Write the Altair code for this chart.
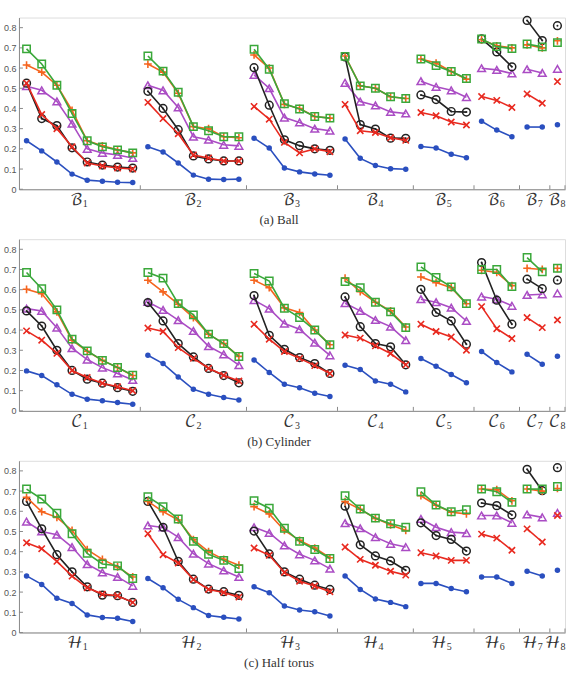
import altair as alt
import pandas as pd

group_sizes = [8, 7, 6, 5, 4, 3, 2, 1]
y_ticks = [0, 0.1, 0.2, 0.3, 0.4, 0.5, 0.6, 0.7, 0.8]
subs = ["1", "2", "3", "4", "5", "6", "7", "8"]

# ---------------- Ball ----------------
ball_blue = [0.24, 0.19, 0.135, 0.075, 0.045, 0.04, 0.035, 0.033, 0.21, 0.185, 0.13, 0.07, 0.05, 0.048, 0.05,
             0.253, 0.204, 0.105, 0.086, 0.076, 0.069, 0.249, 0.153, 0.118, 0.102, 0.099,
             0.212, 0.204, 0.173, 0.156, 0.337, 0.293, 0.26, 0.308, 0.308, 0.319]
ball_red = [0.525, 0.37, 0.30, 0.21, 0.13, 0.115, 0.105, 0.10, 0.43, 0.35, 0.275, 0.17, 0.155, 0.14, 0.14,
            0.41, 0.347, 0.232, 0.18, 0.2, 0.186, 0.42, 0.29, 0.281, 0.255, 0.242,
            0.38, 0.364, 0.333, 0.318, 0.459, 0.44, 0.405, 0.472, 0.426, 0.533]
ball_black = [0.525, 0.35, 0.315, 0.205, 0.135, 0.12, 0.11, 0.105, 0.485, 0.40, 0.295, 0.165, 0.15, 0.14, 0.14,
              0.602, 0.416, 0.245, 0.216, 0.2, 0.193, 0.655, 0.32, 0.298, 0.253, 0.252,
              0.467, 0.444, 0.385, 0.382, 0.745, 0.68, 0.606, 0.836, 0.736, 0.81]
ball_purple = [0.51, 0.49, 0.435, 0.325, 0.20, 0.18, 0.17, 0.155, 0.515, 0.49, 0.405, 0.26, 0.245, 0.22, 0.215,
               0.566, 0.50, 0.355, 0.331, 0.30, 0.29, 0.527, 0.434, 0.415, 0.383, 0.375,
               0.535, 0.507, 0.49, 0.456, 0.599, 0.591, 0.573, 0.594, 0.576, 0.596]
ball_orange = [0.615, 0.58, 0.515, 0.39, 0.24, 0.215, 0.195, 0.18, 0.62, 0.58, 0.475, 0.31, 0.30, 0.26, 0.255,
               0.665, 0.60, 0.42, 0.40, 0.36, 0.352, 0.66, 0.512, 0.50, 0.458, 0.449,
               0.645, 0.625, 0.583, 0.545, 0.74, 0.71, 0.70, 0.715, 0.70, 0.735]
ball_green = [0.695, 0.62, 0.515, 0.375, 0.24, 0.21, 0.195, 0.18, 0.66, 0.585, 0.48, 0.31, 0.29, 0.26, 0.26,
              0.693, 0.594, 0.423, 0.397, 0.36, 0.352, 0.658, 0.512, 0.50, 0.458, 0.449,
              0.645, 0.612, 0.583, 0.548, 0.744, 0.706, 0.696, 0.719, 0.705, 0.726]

# ---------------- Cylinder ----------------
cyl_blue = [0.198, 0.175, 0.129, 0.082, 0.058, 0.05, 0.041, 0.033, 0.275, 0.234, 0.168, 0.107, 0.082, 0.066, 0.054,
            0.252, 0.19, 0.132, 0.115, 0.087, 0.071, 0.226, 0.205, 0.148, 0.132, 0.094,
            0.259, 0.221, 0.18, 0.139, 0.294, 0.239, 0.193, 0.28, 0.231, 0.27]
cyl_red = [0.396, 0.35, 0.285, 0.20, 0.165, 0.137, 0.119, 0.10, 0.41, 0.393, 0.313, 0.26, 0.211, 0.176, 0.148,
           0.429, 0.355, 0.294, 0.26, 0.224, 0.185, 0.376, 0.36, 0.322, 0.284, 0.228,
           0.429, 0.393, 0.366, 0.30, 0.516, 0.407, 0.358, 0.462, 0.412, 0.45]
cyl_black = [0.495, 0.42, 0.30, 0.20, 0.157, 0.137, 0.115, 0.097, 0.536, 0.445, 0.333, 0.267, 0.21, 0.175, 0.139,
             0.571, 0.374, 0.305, 0.264, 0.234, 0.185, 0.564, 0.417, 0.333, 0.317, 0.228,
             0.602, 0.487, 0.445, 0.33, 0.734, 0.548, 0.429, 0.652, 0.605, 0.647]
cyl_purple = [0.506, 0.495, 0.412, 0.31, 0.254, 0.214, 0.185, 0.153, 0.539, 0.50, 0.449, 0.396, 0.32, 0.28, 0.226,
              0.548, 0.506, 0.432, 0.404, 0.338, 0.275, 0.533, 0.495, 0.45, 0.417, 0.35,
              0.553, 0.538, 0.511, 0.445, 0.566, 0.553, 0.52, 0.574, 0.577, 0.582]
cyl_orange = [0.602, 0.58, 0.49, 0.35, 0.295, 0.25, 0.215, 0.175, 0.647, 0.589, 0.528, 0.462, 0.38, 0.333, 0.27,
              0.647, 0.61, 0.51, 0.487, 0.40, 0.327, 0.657, 0.59, 0.538, 0.495, 0.415,
              0.663, 0.635, 0.61, 0.53, 0.696, 0.685, 0.62, 0.706, 0.70, 0.706]
cyl_green = [0.685, 0.605, 0.50, 0.355, 0.297, 0.25, 0.215, 0.177, 0.685, 0.657, 0.531, 0.475, 0.38, 0.333, 0.269,
             0.68, 0.643, 0.508, 0.462, 0.40, 0.327, 0.64, 0.61, 0.538, 0.49, 0.412,
             0.713, 0.66, 0.614, 0.531, 0.70, 0.70, 0.615, 0.759, 0.688, 0.706]

# ---------------- Half torus ----------------
tor_blue = [0.28, 0.238, 0.169, 0.144, 0.087, 0.074, 0.07, 0.054, 0.267, 0.221, 0.164, 0.123, 0.084, 0.075, 0.067,
            0.226, 0.197, 0.131, 0.111, 0.103, 0.082, 0.28, 0.213, 0.166, 0.149, 0.128,
            0.243, 0.243, 0.218, 0.202, 0.275, 0.275, 0.243, 0.303, 0.28, 0.308]
tor_red = [0.444, 0.415, 0.352, 0.279, 0.221, 0.19, 0.182, 0.149, 0.489, 0.385, 0.344, 0.262, 0.213, 0.198, 0.175,
           0.418, 0.382, 0.297, 0.254, 0.23, 0.202, 0.423, 0.362, 0.333, 0.303, 0.284,
           0.395, 0.379, 0.357, 0.357, 0.487, 0.467, 0.407, 0.513, 0.448, 0.579]
tor_black = [0.649, 0.513, 0.385, 0.30, 0.226, 0.185, 0.182, 0.149, 0.649, 0.521, 0.352, 0.264, 0.215, 0.202, 0.184,
             0.502, 0.389, 0.30, 0.264, 0.234, 0.213, 0.625, 0.434, 0.379, 0.354, 0.308,
             0.543, 0.48, 0.461, 0.403, 0.641, 0.628, 0.582, 0.808, 0.702, 0.816]
tor_purple = [0.549, 0.50, 0.484, 0.423, 0.338, 0.297, 0.275, 0.231, 0.53, 0.52, 0.472, 0.39, 0.341, 0.307, 0.275,
              0.521, 0.493, 0.431, 0.387, 0.357, 0.316, 0.541, 0.516, 0.472, 0.439, 0.423,
              0.562, 0.521, 0.497, 0.492, 0.579, 0.579, 0.543, 0.584, 0.57, 0.592]
tor_orange = [0.669, 0.598, 0.57, 0.505, 0.41, 0.362, 0.325, 0.275, 0.649, 0.598, 0.557, 0.46, 0.40, 0.362, 0.333,
              0.623, 0.587, 0.505, 0.456, 0.418, 0.37, 0.648, 0.61, 0.565, 0.533, 0.505,
              0.677, 0.63, 0.595, 0.587, 0.71, 0.707, 0.652, 0.71, 0.70, 0.713]
tor_green = [0.71, 0.661, 0.59, 0.489, 0.392, 0.339, 0.33, 0.267, 0.672, 0.623, 0.562, 0.451, 0.387, 0.357, 0.316,
             0.652, 0.615, 0.516, 0.451, 0.411, 0.366, 0.677, 0.611, 0.566, 0.538, 0.521,
             0.697, 0.631, 0.598, 0.608, 0.71, 0.697, 0.644, 0.71, 0.71, 0.723]

COLORS = {"blue": "#2a4fbf", "red": "#e8291f", "black": "#222222",
          "purple": "#aa4cc4", "orange": "#f5641e", "green": "#3aa83a"}
AX = "#8a8a8a"
W, H = 547, 172
MATH_FONT = "DejaVu Math TeX Gyre, DejaVu Serif, serif"
SERIF = "Liberation Serif, DejaVu Serif, serif"

# group index and position for every point
group_of = []
for g, n in enumerate(group_sizes):
    group_of += [g] * n
positions = list(range(1, len(group_of) + 1))
seps = []
acc = 0
for n in group_sizes:
    acc += n
    seps.append(acc + 0.5)
centers = []
start = 1
for n in group_sizes:
    centers.append(start + (n - 1) / 2)
    start += n


def panel(series, letter, caption):
    rows = []
    for name, vals in series.items():
        for p, g, v in zip(positions, group_of, vals):
            rows.append({"series": name, "pos": p, "group": g, "value": v})
    df = pd.DataFrame(rows)

    X = alt.X("pos:Q", scale=alt.Scale(domain=[0.5, 36.5], nice=False, zero=False),
              axis=alt.Axis(title=None, labels=False, ticks=False, grid=False,
                            domainColor=AX, domainWidth=1))
    Y = alt.Y("value:Q", scale=alt.Scale(domain=[0, 0.85], nice=False, zero=False),
              axis=alt.Axis(title=None, values=y_ticks, format="~g", ticks=False, grid=False,
                            labelFontSize=9, labelColor="#555555", labelPadding=3,
                            labelFont="Liberation Sans", domainColor=AX, domainWidth=1))

    base = alt.Chart(df)
    layers = []

    # separators (inward ticks on x axis)
    sep_df = pd.DataFrame({"pos": seps})
    layers.append(alt.Chart(sep_df).mark_rule(color=AX, strokeWidth=1).encode(
        x=X, y=alt.value(H), y2=alt.value(H - 4)))
    # inward y ticks
    yt_df = pd.DataFrame({"value": y_ticks})
    layers.append(alt.Chart(yt_df).mark_rule(color=AX, strokeWidth=1).encode(
        y=Y, x=alt.value(0), x2=alt.value(4)))

    markers = {
        "blue": dict(shape="circle", filled=True, size=30, strokeWidth=0),
        "purple": dict(shape="triangle-up", filled=False, size=60, strokeWidth=1.5),
        "black": dict(shape="circle", filled=False, size=60, strokeWidth=1.5),
        "red": dict(shape="M-1,-1L1,1M-1,1L1,-1", filled=False, size=40, strokeWidth=1.6),
        "orange": dict(shape="M-1,0L1,0M0,-1L0,1", filled=False, size=60, strokeWidth=1.6),
        "green": dict(shape="square", filled=False, size=55, strokeWidth=1.5),
    }
    for name in ["blue", "purple", "black", "red", "orange", "green"]:
        c = COLORS[name]
        sub = base.transform_filter(alt.datum.series == name)
        layers.append(sub.mark_line(color=c, strokeWidth=1.6).encode(x=X, y=Y, detail="group:N"))
        layers.append(sub.mark_point(color=c, opacity=1, **markers[name]).encode(x=X, y=Y))
        if name == "black":
            layers.append(sub.mark_point(color=c, shape="circle", filled=True, size=4, opacity=1)
                          .encode(x=X, y=Y))

    lab_df = pd.DataFrame({"pos": centers, "letter": [letter] * len(centers), "sub": subs})
    layers.append(alt.Chart(lab_df).mark_text(font=MATH_FONT, fontSize=16, color="#333333",
                                              baseline="middle", align="right", dx=3).encode(
        x=X, y=alt.value(H + 11), text="letter:N"))
    layers.append(alt.Chart(lab_df).mark_text(font=SERIF, fontSize=10, color="#333333",
                                              baseline="middle", align="left", dx=3).encode(
        x=X, y=alt.value(H + 15), text="sub:N"))
    cap_df = pd.DataFrame({"label": [caption]})
    layers.append(alt.Chart(cap_df).mark_text(font=SERIF, fontSize=13, color="#333333",
                                              baseline="middle").encode(
        x=alt.value(W / 2 - 13), y=alt.value(H + 31), text="label:N"))

    return alt.layer(*layers).properties(width=W, height=H)


p1 = panel({"blue": ball_blue, "red": ball_red, "black": ball_black, "purple": ball_purple,
            "orange": ball_orange, "green": ball_green}, "ℬ", "(a)  Ball")
p2 = panel({"blue": cyl_blue, "red": cyl_red, "black": cyl_black, "purple": cyl_purple,
            "orange": cyl_orange, "green": cyl_green}, "𝒞", "(b)  Cylinder")
p3 = panel({"blue": tor_blue, "red": tor_red, "black": tor_black, "purple": tor_purple,
            "orange": tor_orange, "green": tor_green}, "ℋ", "(c)  Half torus")

chart = alt.vconcat(p1, p2, p3, spacing=50, bounds="flush").properties(
    padding={"left": 2, "top": 12, "right": 5, "bottom": 5}
).configure_view(stroke=None).configure(background="white")

chart.save("out.html", embed_options={"renderer": "svg", "actions": False})
